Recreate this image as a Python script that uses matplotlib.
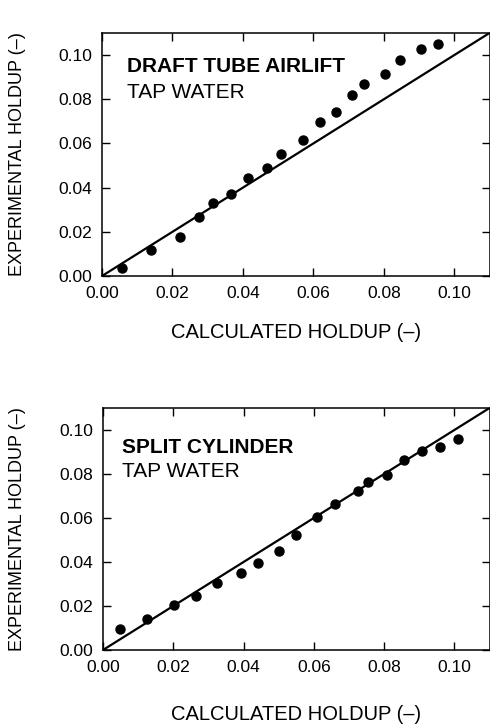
import matplotlib
matplotlib.use("Agg")
import matplotlib.pyplot as plt

plt.rcParams['font.family'] = ['Liberation Sans', 'DejaVu Sans']

# Draft tube airlift, tap water
calc_top = [0.0058, 0.0139, 0.0222, 0.0274, 0.0316, 0.0366, 0.0415, 0.0469, 0.0508,
            0.0571, 0.0620, 0.0663, 0.0710, 0.0743, 0.0804, 0.0846, 0.0906, 0.0953]
exp_top = [0.0035, 0.0118, 0.0175, 0.0269, 0.0330, 0.0371, 0.0443, 0.0489, 0.0552,
           0.0614, 0.0696, 0.0743, 0.0821, 0.0870, 0.0915, 0.0980, 0.1026, 0.1051]

# Split cylinder, tap water
calc_bot = [0.0047, 0.0125, 0.0203, 0.0264, 0.0325, 0.0392, 0.0442, 0.0500, 0.0549,
            0.0608, 0.0660, 0.0726, 0.0753, 0.0808, 0.0857, 0.0908, 0.0960, 0.1009]
exp_bot = [0.0097, 0.0139, 0.0204, 0.0245, 0.0305, 0.0350, 0.0396, 0.0449, 0.0524,
           0.0604, 0.0665, 0.0725, 0.0763, 0.0796, 0.0864, 0.0905, 0.0924, 0.0958]

ticks = [0.00, 0.02, 0.04, 0.06, 0.08, 0.10]
tick_labels = ["0.00", "0.02", "0.04", "0.06", "0.08", "0.10"]
parity = [0.0, 0.11]

titles = ["DRAFT TUBE AIRLIFT", "SPLIT CYLINDER"]
subtitle = "TAP WATER"
xlab = "CALCULATED HOLDUP (\u2013)"
ylab = "EXPERIMENTAL HOLDUP (\u2013)"

fig = plt.figure(figsize=(4.9, 7.27), dpi=100)
ax1 = fig.add_axes([102/490, 1-276/727, 387.5/490, 243/727])
ax2 = fig.add_axes([103/490, 1-650/727, 386.5/490, 242/727])

panels = [(ax1, calc_top, exp_top, titles[0], (0.0071, 0.0923, 0.0805)),
          (ax2, calc_bot, exp_bot, titles[1], (0.0053, 0.0897, 0.0785))]

for ax, xc, ye, title, (tx, ty1, ty2) in panels:
    ax.plot(parity, parity, color='black', lw=1.6, solid_capstyle='butt', zorder=2)
    ax.plot(xc, ye, 'o', color='black', ms=6.5, zorder=3, clip_on=False)
    ax.set_xlim(0, 0.11)
    ax.set_ylim(0, 0.11)
    ax.set_xticks(ticks)
    ax.set_xticklabels(tick_labels)
    ax.set_yticks(ticks)
    ax.set_yticklabels(tick_labels)
    ax.tick_params(direction='in', top=True, right=True, length=6, width=1.0,
                   labelsize=12.5, pad=7, colors='black')
    for s in ax.spines.values():
        s.set_linewidth(1.1)
    ax.text(tx, ty1, title, fontsize=15, fontweight='bold', ha='left', va='baseline')
    ax.text(tx, ty2, subtitle, fontsize=15, ha='left', va='baseline')
    ax.set_xlabel(xlab, fontsize=14.5)
    ax.set_ylabel(ylab, fontsize=13)
    ax.xaxis.label.set_va('center')
    ax.yaxis.label.set_va('center')

ax1.xaxis.set_label_coords(0.5, -(333-276)/243)
ax2.xaxis.set_label_coords(0.5, -(715-650)/242)
ax1.yaxis.set_label_coords(-(102-18)/387.5, 0.5)
ax2.yaxis.set_label_coords(-(103-18)/386.5, 0.5)

fig.savefig("out.png", dpi=100)
